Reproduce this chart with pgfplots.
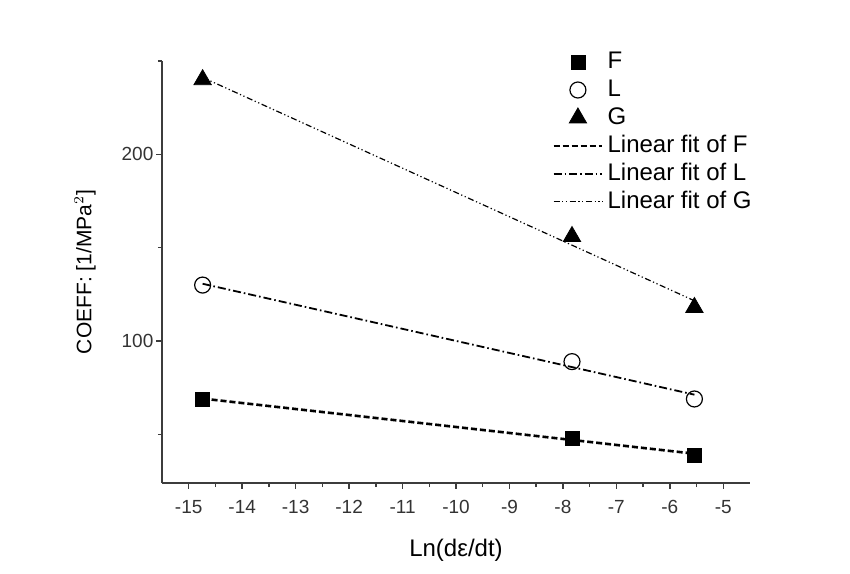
\documentclass[border=0pt]{standalone}
\usepackage{pgfplots}
\pgfplotsset{compat=1.18}
\usepackage{fontspec}
\setmainfont{Liberation Sans}
\definecolor{axgray}{RGB}{60,60,60}

\begin{document}
\begin{tikzpicture}
\begin{axis}[
  scale only axis,
  width=294bp, height=211bp,
  xmin=-15.5, xmax=-4.5,
  ymin=24, ymax=250,
  axis x line*=bottom, axis y line*=left,
  axis line style={axgray, line width=0.9bp},
  xtick={-15,-14,...,-5},
  minor x tick num=1,
  ytick={100,200},
  minor ytick={50,150,250},
  tick align=outside,
  major tick length=2.8bp, minor tick length=2bp,
  tick style={axgray, line width=0.7bp},
  /pgf/number format/assume math mode=true,
  tick label style={font=\fontsize{9.5bp}{11bp}\selectfont, text=black!80},
  xticklabel style={yshift=-2.5bp},
  yticklabel style={xshift=2bp},
  xlabel={Ln(dε/dt)},
  ylabel={COEFF: [1/MPa$^2$]},
  label style={text=black!80},
  every axis x label/.style={at={(axis description cs:0.5,0)}, yshift=-33.5bp, anchor=center, font=\fontsize{12bp}{14bp}\selectfont},
  every axis y label/.style={at={(axis description cs:0,0.5)}, xshift=-38.5bp, rotate=90, anchor=center, font=\fontsize{10.5bp}{12bp}\selectfont},
  legend style={at={(rel axis cs:0.663,1.034)}, anchor=north west, draw=none, fill=none,
    font=\fontsize{12bp}{13bp}\selectfont, row sep=-1bp, inner sep=0pt,
    nodes={text height=8.6bp, text depth=2.4bp},
    /tikz/every even column/.append style={column sep=5bp}},
  legend cell align=left,
  legend image code/.code={\draw[mark repeat=2,mark phase=2,#1] plot coordinates {(0cm,0cm)(0.43cm,0cm)(0.86cm,0cm)};},
  clip=false,
]
% measured points
\addplot[only marks, mark=square*, mark size=3.5bp, black] coordinates {(-14.74,69) (-7.83,48) (-5.54,39)};
\addplot[only marks, mark=o, mark size=4bp, black, mark options={line width=0.6bp, fill=white}] coordinates {(-14.74,130) (-7.83,89) (-5.54,69)};
\addplot[only marks, mark=triangle*, mark size=5bp, black] coordinates {(-14.74,240) (-7.83,156) (-5.54,118)};
% linear fits
\addplot[black, line width=1.3bp, dash pattern=on 3bp off 1.5bp] coordinates {(-14.74,69.2) (-5.54,39.7)};
\addplot[black, line width=0.9bp, dash pattern=on 4bp off 1.5bp on 0.8bp off 1.5bp] coordinates {(-14.74,130.7) (-5.54,71.3)};
\addplot[black, line width=0.6bp, dash pattern=on 3bp off 1.3bp on 0.6bp off 1.3bp on 0.6bp off 1.3bp] coordinates {(-14.74,241.2) (-5.54,121.6)};
\legend{F, L, G, Linear fit of F, Linear fit of L, Linear fit of G}
\end{axis}
\pgfresetboundingbox
\useasboundingbox ([xshift=-81bp,yshift=-45.5bp]current axis.south west) rectangle ([xshift=344bp,yshift=241.5bp]current axis.south west);
\end{tikzpicture}
\end{document}
